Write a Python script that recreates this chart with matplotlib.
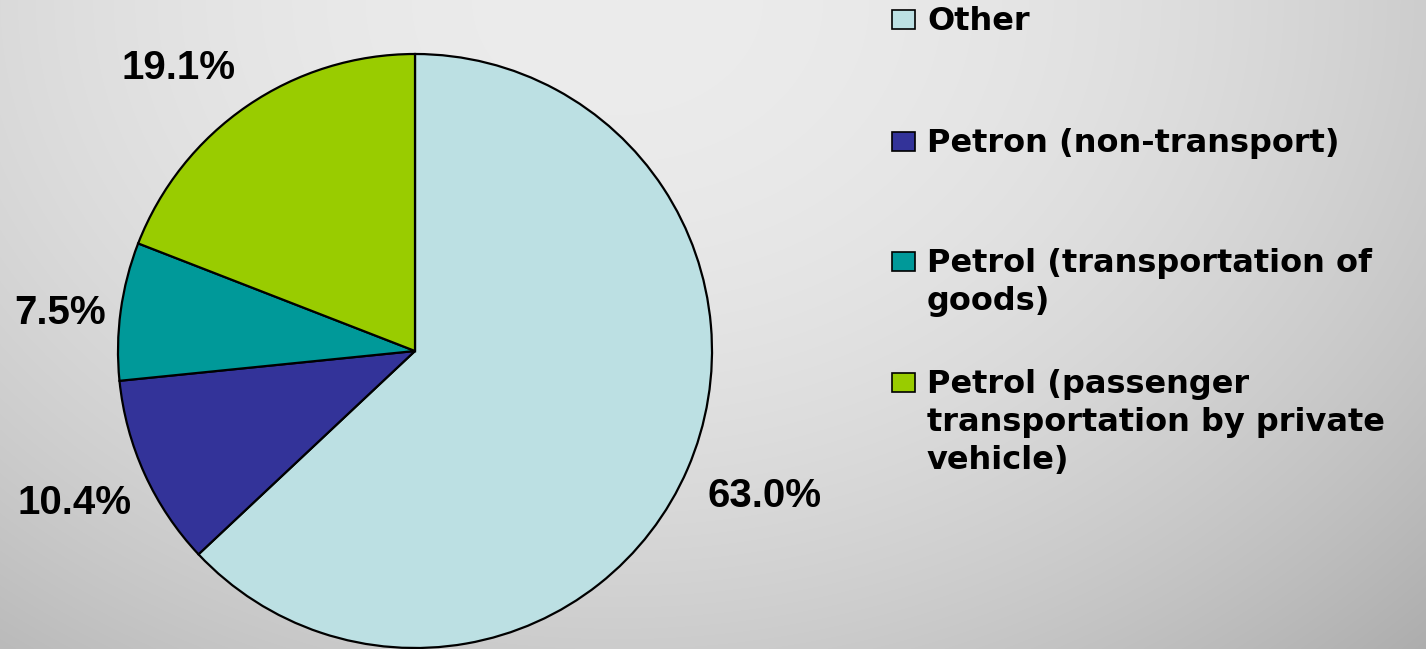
import numpy as np
import matplotlib.pyplot as plt
from matplotlib.patches import Rectangle

plt.rcParams['font.family'] = ['Liberation Sans', 'DejaVu Sans']

# datos
labels = ["Other", "Petron (non-transport)", "Petrol (transportation of\ngoods)",
          "Petrol (passenger\ntransportation by private\nvehicle)"]
values = [63.0, 10.4, 7.5, 19.1]
colors = ["#BCE0E3", "#333399", "#009999", "#99CC00"]

# posición de las etiquetas de porcentaje (en radios del pastel)
label_pos = [(1.178, -0.487), (-1.145, -0.512), (-1.195, 0.128), (-0.795, 0.953)]

W, H = 1426, 649
fig = plt.figure(figsize=(W / 100, H / 100), dpi=100)

# fondo degradado gris
bg = fig.add_axes([0, 0, 1, 1], zorder=-10)
yy, xx = np.mgrid[0:H, 0:W]
shade = 236 - 4.73e-5 * (xx - 617) ** 2 - 7.6e-5 * yy ** 2
shade = np.clip(shade, 0, 255) / 255.0
bg.imshow(np.dstack([shade] * 3), aspect='auto', extent=[0, W, H, 0])
bg.axis('off')

# pastel
ax = fig.add_axes([(415 - 297) / W, (H - 351 - 297) / H, 594 / W, 594 / H])
wedges, texts, autotexts = ax.pie(
    values, colors=colors, startangle=90, counterclock=False, radius=1,
    wedgeprops=dict(edgecolor='black', linewidth=1.6),
    autopct='%1.1f%%', pctdistance=1.25,
    textprops=dict(fontsize=29, fontweight='bold', color='black'))
for t, p in zip(autotexts, label_pos):
    t.set_position(p)
ax.set_xlim(-1, 1)
ax.set_ylim(-1, 1)
ax.set_aspect('equal')

# leyenda
baselines = [30, 152, 272, 393]
for lab, col, yb in zip(labels, colors, baselines):
    fig.patches.append(Rectangle((892 / W, 1 - (yb - 1) / H), 23 / W, 19 / H,
                                 transform=fig.transFigure, facecolor=col,
                                 edgecolor='black', linewidth=1.2))
    for i, line in enumerate(lab.split("\n")):
        fig.text(927 / W, 1 - (yb + 38 * i) / H, line, fontsize=23,
                 fontweight='bold', va='baseline', ha='left',
                 family='DejaVu Sans')

plt.savefig('out.png', dpi=100)
